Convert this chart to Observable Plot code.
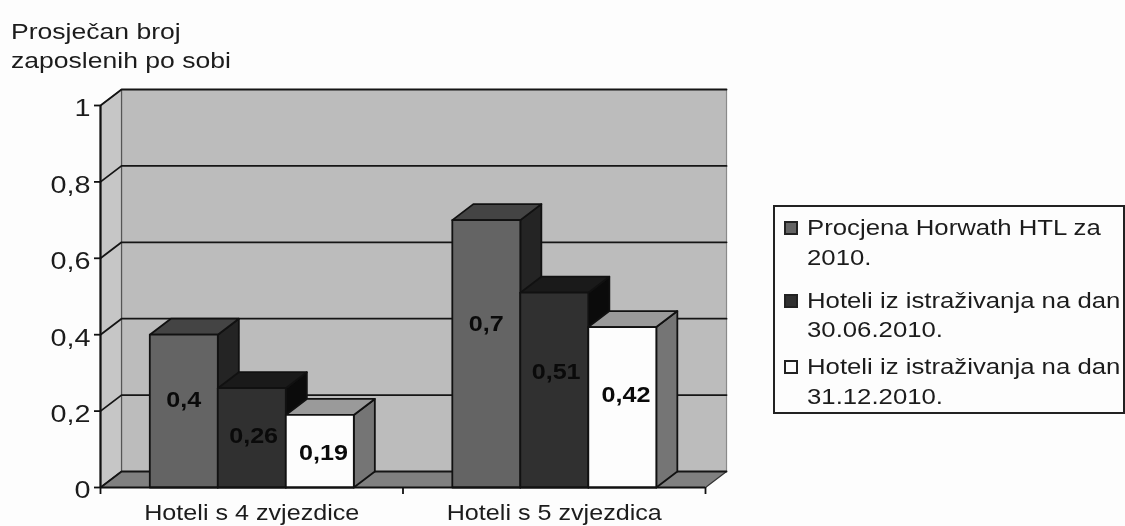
<!DOCTYPE html>
<html>
<head>
<meta charset="utf-8">
<script src="https://cdn.jsdelivr.net/npm/d3@7"></script>
<script src="https://cdn.jsdelivr.net/npm/@observablehq/plot@0.6"></script>
<style>
html,body{margin:0;padding:0;background:#fdfdfd;overflow:hidden}
#wrap{position:relative;width:1125px;height:526px;font-family:"Liberation Sans",Arial,sans-serif;color:#1c1c1c;overflow:hidden;filter:blur(0.5px)}
#chart{position:absolute;left:0;top:0}
#chart svg{overflow:visible;background:transparent}
.t{position:absolute;white-space:nowrap;transform-origin:left center;transform:scaleX(1.17)}
#title .t{font-size:22.7px;line-height:25px;left:11px}
#legend{position:absolute;left:773px;top:205px;width:352px;height:209px;box-sizing:border-box;border:2px solid #222;background:#fdfdfd}
#legend .t{font-size:22px;line-height:24px;left:32px}
#legend i{position:absolute;left:9px;width:14px;height:14px;box-sizing:border-box;border:2px solid #222}
</style>
</head>
<body>
<div id="wrap">
  <div id="chart"></div>
  <div id="title"></div>
  <div id="legend"></div>
</div>
<script>
const categories = ["Hoteli s 4 zvjezdice", "Hoteli s 5 zvjezdica"];
const seriesNames = [
  ["Procjena Horwath HTL za", "2010."],
  ["Hoteli iz istraživanja na dan", "30.06.2010."],
  ["Hoteli iz istraživanja na dan", "31.12.2010."]
];
const procjena = [0.4, 0.7];
const junij = [0.26, 0.51];
const prosinac = [0.19, 0.42];
const yTicks = [0, 0.2, 0.4, 0.6, 0.8, 1];
const titleLines = ["Prosječan broj", "zaposlenih po sobi"];

const series = [procjena, junij, prosinac];
const colors = [
  {front: "#646464", top: "#444444", side: "#242424", swatch: "#646464"},
  {front: "#303030", top: "#1a1a1a", side: "#0b0b0b", swatch: "#303030"},
  {front: "#fdfdfd", top: "#9a9a9a", side: "#757575", swatch: "#fdfdfd"}
];

// depth of the 3D box, in scale units
const dX = 0.0695, dY = 0.0419;
const barW = 0.2248, gap = 0.163;
const fmt = v => String(v).replace(".", ",");

const faces = [];
let id = 0;
function face(fill, stroke, pts) {
  id++;
  for (const [x, y] of pts) faces.push({id, x, y, fill, stroke});
}
// walls and floor
face("#bcbcbc", "#8a8a8a", [[dX, dY], [2 + dX, dY], [2 + dX, 1 + dY], [dX, 1 + dY]]);
face("#c6c6c6", "#555555", [[0, 0], [dX, dY], [dX, 1 + dY], [0, 1]]);
face("#808080", "#333333", [[0, 0], [2, 0], [2 + dX, dY], [dX, dY]]);

const grid = [];
yTicks.forEach((t, k) => {
  grid.push({k, x: 0, y: t}, {k, x: dX, y: t + dY}, {k, x: 2 + dX, y: t + dY});
});

const bars = [];
const labels = [];
categories.forEach((c, g) => {
  series.forEach((s, i) => {
    bars.push({g, i, v: s[g]});
    const x0 = g + gap + i * barW;
    labels.push({x: x0 + barW / 2 + 0.006 * i, y: s[g] * 0.667 - 0.038, text: fmt(s[g])});
  });
});
const barFaces = [];
bars.forEach(({g, i, v}) => {
  const x0 = g + gap + i * barW, x1 = x0 + barW, c = colors[i];
  const before = faces.length;
  face(c.side, "#111", [[x1, 0], [x1 + dX, dY], [x1 + dX, v + dY], [x1, v]]);
  face(c.top, "#111", [[x0, v], [x1, v], [x1 + dX, v + dY], [x0 + dX, v + dY]]);
  face(c.front, "#111", [[x0, 0], [x1, 0], [x1, v], [x0, v]]);
  barFaces.push(...faces.splice(before));
});

const plot = Plot.plot({
  width: 1125,
  height: 526,
  marginLeft: 100,
  marginRight: 420,
  marginTop: 105,
  marginBottom: 39,
  style: {fontFamily: '"Liberation Sans",Arial,sans-serif', background: "transparent", color: "#1c1c1c"},
  x: {domain: [0, 2]},
  y: {domain: [0, 1]},
  color: {type: "identity"},
  marks: [
    Plot.line(faces, {x: "x", y: "y", z: "id", fill: "fill", stroke: "stroke", strokeWidth: 1.2, curve: "linear-closed"}),
    Plot.line(grid, {x: "x", y: "y", z: "k", stroke: "#151515", strokeWidth: 1.8}),
    Plot.line(barFaces, {x: "x", y: "y", z: "id", fill: "fill", stroke: "stroke", strokeWidth: 1.8, curve: "linear-closed"}),
    Plot.text(labels, {x: "x", y: "y", text: "text", fontSize: 21.5, fontWeight: "bold", fill: "#0a0a0a"}),
    Plot.ruleX([0], {y1: 0, y2: 1, stroke: "#111", strokeWidth: 2.2}),
    Plot.ruleY([0], {x1: 0, x2: 2, stroke: "#111", strokeWidth: 2.2}),
    Plot.axisY({ticks: yTicks, tickSize: 6, text: null, label: null, stroke: "#111", strokeWidth: 1.8}),
    Plot.axisY({ticks: yTicks, tickSize: 0, tickPadding: 10, dy: 3, tickFormat: fmt, fontSize: 24.6, label: null, color: "#1c1c1c"}),
    Plot.axisX({ticks: [0, 1, 2], tickSize: 7, text: null, label: null, stroke: "#111", strokeWidth: 1.8}),
    Plot.axisX({ticks: [0.5, 1.5], tickSize: 0, tickPadding: 17, tickFormat: d => categories[Math.floor(d)], fontSize: 21.5, label: null})
  ]
});
// the reference picture is stretched sideways: widen the glyphs the same way
plot.querySelectorAll('g[aria-label="text"] text, [aria-label="y-axis tick label"] text, [aria-label="x-axis tick label"] text').forEach(t => {
  t.setAttribute("transform", (t.getAttribute("transform") || "") + " scale(1.17,1)");
});
document.getElementById("chart").appendChild(plot);

// title
const title = document.getElementById("title");
titleLines.forEach((l, i) => {
  const d = document.createElement("div");
  d.className = "t";
  d.textContent = l;
  d.style.top = (18.5 + i * 29) + "px";
  title.appendChild(d);
});

// legend
const legend = document.getElementById("legend");
const lineCentres = [21, 51, 94, 123, 160, 190];
seriesNames.forEach((lines, i) => {
  const sw = document.createElement("i");
  sw.style.background = colors[i].swatch;
  sw.style.top = (lineCentres[i * 2] - 7) + "px";
  legend.appendChild(sw);
  lines.forEach((l, j) => {
    const d = document.createElement("div");
    d.className = "t";
    d.textContent = l;
    d.style.top = (lineCentres[i * 2 + j] - 12) + "px";
    legend.appendChild(d);
  });
});
</script>
</body>
</html>
